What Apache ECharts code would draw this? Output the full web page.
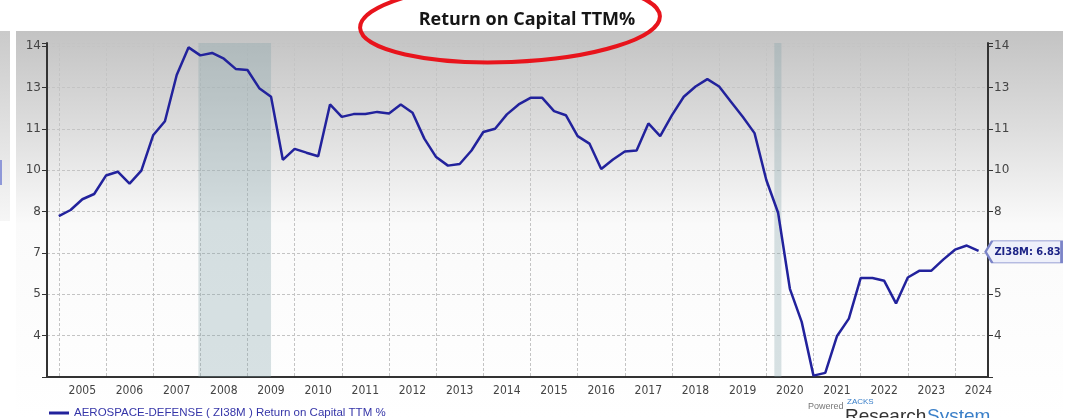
<!DOCTYPE html>
<html lang="en">
<head>
    <meta charset="UTF-8">
    <title>Return on Capital TTM%</title>
    <script type="text/javascript" src="https://cdn.jsdelivr.net/npm/echarts@6/dist/echarts.min.js"></script>
    <style>
        html, body { margin: 0; padding: 0; background: #fff; }
        #main { width: 1073px; height: 418px; }
    </style>
</head>
<body>
<div id="main"></div>
<script type="text/javascript">

    // quarterly series, first point = start of 2005, one point per quarter
    var firstQuarter = 2005.0;
    var quarterStep = 0.25;
    var roc = [
        8.09, 8.31, 8.70, 8.89, 9.56, 9.70, 9.27, 9.74,
        11.02, 11.53, 13.21, 14.21, 13.92, 14.01, 13.80, 13.43,
        13.39, 12.73, 12.42, 10.13, 10.53, 10.39, 10.26, 12.14,
        11.69, 11.79, 11.79, 11.87, 11.81, 12.14, 11.84, 10.90,
        10.23, 9.92, 9.98, 10.47, 11.14, 11.26, 11.78, 12.14,
        12.38, 12.38, 11.90, 11.75, 10.99, 10.72, 9.80, 10.14,
        10.43, 10.47, 11.45, 10.99, 11.75, 12.42, 12.79, 13.06,
        12.79, 12.24, 11.69, 11.10, 9.40, 8.21, 5.45, 4.25,
        2.30, 2.40, 3.74, 4.37, 5.84, 5.84, 5.74, 4.92,
        5.86, 6.11, 6.11, 6.51, 6.87, 7.02, 6.83
    ];
    // recession bands (fractional years)
    var recessions = [[2007.96, 2009.5], [2020.17, 2020.32]];
    var seriesName = 'AEROSPACE-DEFENSE ( ZI38M ) Return on Capital TTM %';
    var tickerLabel = 'ZI38M';

    var points = [];
    for (var i = 0; i < roc.length; i++) {
        points.push([firstQuarter + i * quarterStep, roc[i]]);
    }
    var last = points[points.length - 1];

    var yMin = 2.25, yMax = 14.37, yStep = 1.5;
    function yLabel(v) {
        // ticks sit at 3.75 + 1.5k, shown rounded
        var k = (v - 3.75) / yStep;
        if (v < 3 || Math.abs(k - Math.round(k)) > 0.01) return '';
        return String(Math.round(v));
    }
    function yAxisCfg(pos) {
        return {
            type: 'value', position: pos, min: yMin, max: yMax, interval: yStep,
            axisLine: { show: true, lineStyle: { color: '#333', width: 2 } },
            axisTick: { show: true, length: 5, lineStyle: { color: '#333' } },
            axisLabel: {
                formatter: yLabel, color: '#444', fontSize: 12, margin: 6,
                fontFamily: 'DejaVu Sans'
            },
            splitLine: { show: pos === 'left', lineStyle: { color: '#c4c4c4', type: [3, 2] } }
        };
    }

    var myChart = echarts.init(document.getElementById('main'));
    myChart.setOption({
        animation: false,
        backgroundColor: '#fff',
        title: {
            text: 'Return on Capital TTM%',
            left: 522, top: 6, textAlign: 'center',
            textStyle: { fontFamily: 'Open Sans', fontWeight: 'bold', fontSize: 18, color: '#161616' }
        },
        graphic: [
            {
                type: 'rect', z: -10, silent: true,
                shape: { x: 16, y: 31, width: 1047, height: 387 },
                style: {
                    fill: new echarts.graphic.LinearGradient(0, 0, 0, 1, [
                        { offset: 0, color: '#c3c3c3' },
                        { offset: 0.25, color: '#dddddd' },
                        { offset: 0.5, color: '#fafafa' },
                        { offset: 1, color: '#ffffff' }
                    ])
                }
            },
            {
                type: 'rect', z: -10, silent: true,
                shape: { x: 0, y: 31, width: 10, height: 190 },
                style: {
                    fill: new echarts.graphic.LinearGradient(0, 0, 0, 1, [
                        { offset: 0, color: '#cacaca' },
                        { offset: 1, color: '#f6f6f6' }
                    ])
                }
            },
            {
                type: 'rect', z: -9, silent: true,
                shape: { x: 0, y: 160, width: 2, height: 25 },
                style: { fill: '#8f98d8' }
            },
            {
                type: 'ellipse', z: 100, silent: true,
                shape: { cx: 510, cy: 22, rx: 150, ry: 40 },
                rotation: 0.04, originX: 510, originY: 22,
                style: { fill: 'none', stroke: '#e8141c', lineWidth: 4 }
            },
            {
                type: 'text', left: 808, top: 402, silent: true,
                style: { text: 'Powered', fill: '#777', font: '9px Liberation Sans' }
            },
            {
                type: 'text', left: 847, top: 398, silent: true,
                style: { text: 'ZACKS', fill: '#3a7fc8', font: '8px Liberation Sans' }
            },
            {
                type: 'text', left: 845, top: 407, silent: true,
                style: { text: 'Research', fill: '#333', font: '19px Liberation Sans' }
            },
            {
                type: 'text', left: 927, top: 407, silent: true,
                style: { text: 'System', fill: '#3a7fc8', font: '19px Liberation Sans' }
            }
        ],
        legend: {
            left: 44, top: 402,
            itemWidth: 20, itemHeight: 3, itemGap: 6,
            icon: 'rect',
            textStyle: { color: '#3535a8', fontSize: 11.5, fontFamily: 'Liberation Sans' },
            data: [seriesName]
        },
        grid: { left: 47, right: 85, top: 43, bottom: 41, containLabel: false },
        xAxis: {
            type: 'value', min: 2004.75, max: 2024.7,
            minInterval: 1, maxInterval: 1,
            axisLine: { show: true, onZero: false, lineStyle: { color: '#333', width: 2 } },
            axisTick: { show: false },
            axisLabel: {
                formatter: function (v) {
                    return Math.abs(v - Math.round(v)) < 0.01 ? String(Math.round(v)) : '';
                },
                color: '#444', fontSize: 12, fontFamily: 'DejaVu Sans Condensed',
                padding: [0, 0, 0, 47], margin: 8,
                showMinLabel: true, showMaxLabel: true
            },
            splitLine: { show: true, lineStyle: { color: '#c4c4c4', type: [3, 2] } }
        },
        yAxis: [yAxisCfg('left'), yAxisCfg('right')],
        series: [{
            name: seriesName,
            type: 'line',
            data: points,
            showSymbol: false,
            symbol: 'none',
            lineStyle: { color: '#22229c', width: 2.5 },
            itemStyle: { color: '#22229c' },
            markArea: {
                silent: true,
                itemStyle: { color: 'rgba(125,158,165,0.30)' },
                data: recessions.map(function (r) {
                    return [{ xAxis: r[0] }, { xAxis: r[1] }];
                })
            },
            markPoint: {
                silent: true,
                symbol: 'path://M0,10 L7,0 L80,0 L80,20 L7,20 Z',
                symbolSize: [76, 22],
                symbolOffset: [45, 1],
                itemStyle: { color: '#eef0fa', borderColor: '#7b84c8', borderWidth: 1.5 },
                label: {
                    show: true, offset: [4, 0],
                    color: '#1d2486', fontWeight: 'bold', fontSize: 11,
                    fontFamily: 'DejaVu Sans Condensed',
                    formatter: function (p) { return tickerLabel + ': ' + p.value.toFixed(2); }
                },
                data: [{ coord: last, value: last[1] }]
            }
        }]
    });
</script>
</body>
</html>
